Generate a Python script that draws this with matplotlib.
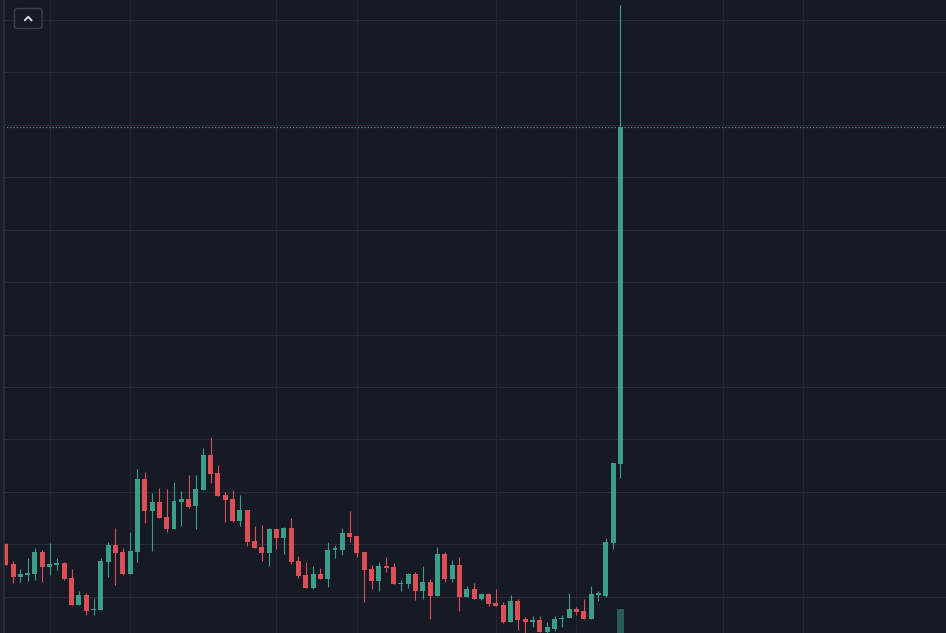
import matplotlib
matplotlib.use("Agg")
import matplotlib.pyplot as plt
from matplotlib.patches import Rectangle, FancyBboxPatch
from matplotlib.lines import Line2D

# ---- data (daily candles) ----
opens = [1.505, 1.311, 1.193, 1.212, 1.219, 1.431, 1.289, 1.305, 1.327, 1.181,
         0.927, 1.022, 0.873, 0.873, 1.336, 1.495, 1.431, 1.219, 1.431, 2.124,
         1.822, 1.905, 1.762, 1.648, 1.905, 1.930, 1.867, 2.019, 2.352, 2.184,
         1.971, 1.933, 1.727, 1.829, 1.533, 1.479, 1.422, 1.645, 1.565, 1.660,
         1.343, 1.210, 1.089, 1.219, 1.174, 1.448, 1.448, 1.612, 1.581, 1.431,
         1.270, 1.152, 1.298, 1.289, 1.124, 1.121, 1.216, 1.057, 1.143, 1.012,
         1.412, 1.171, 1.305, 1.003, 1.076, 0.981, 1.026, 0.946, 0.927, 0.759,
         0.962, 0.793, 0.765, 0.781, 0.664, 0.695, 0.788, 0.797, 0.886, 0.867,
         0.790, 1.019, 1.012, 1.511, 2.267]
highs = [1.514, 1.346, 1.264, 1.369, 1.464, 1.448, 1.511, 1.369, 1.336, 1.264,
         1.054, 1.035, 0.988, 1.374, 1.524, 1.654, 1.464, 1.622, 2.222, 2.190,
         1.988, 2.035, 2.026, 2.098, 2.010, 2.162, 2.162, 2.416, 2.521, 2.257,
         2.003, 2.019, 1.971, 1.829, 1.679, 1.686, 1.654, 1.645, 1.670, 1.750,
         1.390, 1.336, 1.298, 1.273, 1.524, 1.495, 1.660, 1.822, 1.581, 1.431,
         1.305, 1.336, 1.384, 1.321, 1.162, 1.231, 1.241, 1.298, 1.169, 1.479,
         1.431, 1.352, 1.384, 1.108, 1.130, 1.035, 1.035, 1.076, 0.955, 1.019,
         0.978, 0.812, 0.819, 0.819, 0.765, 0.819, 0.829, 1.041, 0.908, 0.978,
         1.105, 1.060, 1.559, 2.276, 6.638]
lows = [1.305, 1.136, 1.146, 1.155, 1.162, 1.146, 1.210, 1.257, 1.162, 0.927,
        0.921, 0.826, 0.829, 0.873, 1.193, 1.111, 1.210, 1.219, 1.336, 1.705,
        1.441, 1.752, 1.622, 1.648, 1.679, 1.850, 1.645, 2.019, 2.083, 1.965,
        1.717, 1.717, 1.676, 1.486, 1.470, 1.346, 1.298, 1.457, 1.410, 1.311,
        1.184, 1.089, 1.076, 1.171, 1.098, 1.369, 1.400, 1.527, 1.384, 0.955,
        1.073, 1.057, 1.241, 1.121, 1.057, 1.083, 0.971, 0.981, 0.790, 1.012,
        1.140, 1.140, 0.870, 1.003, 0.981, 0.971, 0.917, 0.917, 0.750, 0.759,
        0.686, 0.638, 0.711, 0.664, 0.650, 0.679, 0.711, 0.797, 0.829, 0.790,
        0.790, 0.965, 1.003, 1.457, 2.136]
closes = [1.305, 1.193, 1.219, 1.226, 1.429, 1.286, 1.314, 1.327, 1.171, 0.927,
          1.022, 0.867, 0.886, 1.343, 1.495, 1.422, 1.219, 1.438, 2.124, 1.822,
          1.905, 1.752, 1.645, 1.914, 1.936, 1.860, 2.026, 2.352, 2.171, 1.965,
          1.924, 1.721, 1.829, 1.527, 1.470, 1.422, 1.645, 1.565, 1.660, 1.330,
          1.200, 1.089, 1.219, 1.171, 1.448, 1.464, 1.612, 1.569, 1.416, 1.257,
          1.152, 1.298, 1.279, 1.121, 1.136, 1.216, 1.057, 1.143, 1.012, 1.412,
          1.171, 1.305, 1.003, 1.076, 0.981, 1.026, 0.933, 0.917, 0.759, 0.962,
          0.781, 0.765, 0.781, 0.664, 0.717, 0.790, 0.797, 0.886, 0.857, 0.790,
          1.029, 1.035, 1.524, 2.276, 5.479]
volumes = [0.3, 0.4, 0.2, 0.2, 0.4, 0.3, 0.2, 0.2, 0.3, 0.5,
           0.3, 0.4, 0.3, 0.6, 0.5, 0.5, 0.3, 0.4, 0.9, 0.6,
           0.4, 0.4, 0.4, 0.5, 0.3, 0.4, 0.4, 0.7, 0.6, 0.4,
           0.3, 0.4, 0.3, 0.4, 0.3, 0.3, 0.4, 0.2, 0.3, 0.4,
           0.3, 0.3, 0.3, 0.2, 0.4, 0.2, 0.3, 0.3, 0.3, 0.5,
           0.3, 0.3, 0.2, 0.3, 0.2, 0.2, 0.3, 0.3, 0.4, 0.5,
           0.3, 0.3, 0.4, 0.2, 0.2, 0.2, 0.2, 0.2, 0.3, 0.3,
           0.3, 0.3, 0.2, 0.2, 0.2, 0.2, 0.2, 0.3, 0.2, 0.2,
           0.3, 0.2, 0.6, 1.5, 100.0]
price_grid = [1.0, 1.5, 2.0, 2.5, 3.0, 3.5, 4.0, 4.5, 5.0, 5.5, 6.0, 6.5]
time_grid = [6, 17, 37, 48, 67, 78, 98, 109]

# ---- style ----
W, H = 946, 633
BG = "#161a25"
HGRID = "#272b37"
VGRID = "#222631"
UP = "#3d9e87"
DOWN = "#dc4f57"

fig = plt.figure(figsize=(W / 100, H / 100), dpi=100)
fig.patch.set_facecolor(BG)
ax = fig.add_axes([0, 0, 1, 1])
ax.set_facecolor(BG)
ax.set_xlim(-0.78, 128.5)
ax.set_ylim(0.657, 6.686)
for sp in ax.spines.values():
    sp.set_visible(False)
ax.set_xticks([])
ax.set_yticks([])

for p in price_grid:
    ax.axhline(p, color=HGRID, lw=0.75, zorder=0)
for t in time_grid:
    ax.axvline(t, color=VGRID, lw=0.75, zorder=0)

# volume pane (overlay at bottom)
vax = ax.twinx()
vax.set_ylim(0, max(volumes) * H / 24.5)
vax.set_xlim(ax.get_xlim())
for sp in vax.spines.values():
    sp.set_visible(False)
vax.set_yticks([])
vol_colors = [UP if c >= o else DOWN for o, c in zip(opens, closes)]
vax.bar(range(len(volumes)), volumes, width=0.9, color=vol_colors, alpha=0.5,
        linewidth=0, zorder=1)

# candles
bw = 0.68
min_h = 0.011
for i, (o, h, l, c) in enumerate(zip(opens, highs, lows, closes)):
    col = UP if c >= o else DOWN
    ax.vlines(i, l, h, color=col, lw=0.8, zorder=3)
    bottom = min(o, c)
    height = max(abs(c - o), min_h)
    ax.add_patch(Rectangle((i - bw / 2, bottom), bw, height, facecolor=col,
                           edgecolor="none", zorder=4))

# last price dotted line
ax.axhline(closes[-1], color=UP, lw=0.9, linestyle=(0, (1, 1.6)), alpha=0.95, zorder=2)

# left border strip
fig.add_artist(Rectangle((0, 0), 4.2 / W, 1, transform=fig.transFigure,
                         facecolor="#1b1f2b", edgecolor="none", zorder=10))
fig.add_artist(Line2D([3.6 / W, 3.6 / W], [0, 1], transform=fig.transFigure,
                      color="#2c303c", lw=1.2, zorder=11))

# collapse button top-left
fig.add_artist(FancyBboxPatch((14.5 / W, 1 - 28.5 / H), 27.5 / W, 20 / H,
                              boxstyle="round,pad=0,rounding_size=0.004",
                              transform=fig.transFigure, facecolor=BG,
                              edgecolor="#3b3f4b", lw=1.0, zorder=12))
fig.add_artist(Line2D([24.8 / W, 28.2 / W, 31.6 / W],
                      [1 - 20.3 / H, 1 - 16.8 / H, 1 - 20.3 / H],
                      transform=fig.transFigure, color="#d6d9e0", lw=1.4,
                      solid_capstyle="round", solid_joinstyle="round", zorder=13))

fig.savefig("out.png", dpi=100, facecolor=BG)
